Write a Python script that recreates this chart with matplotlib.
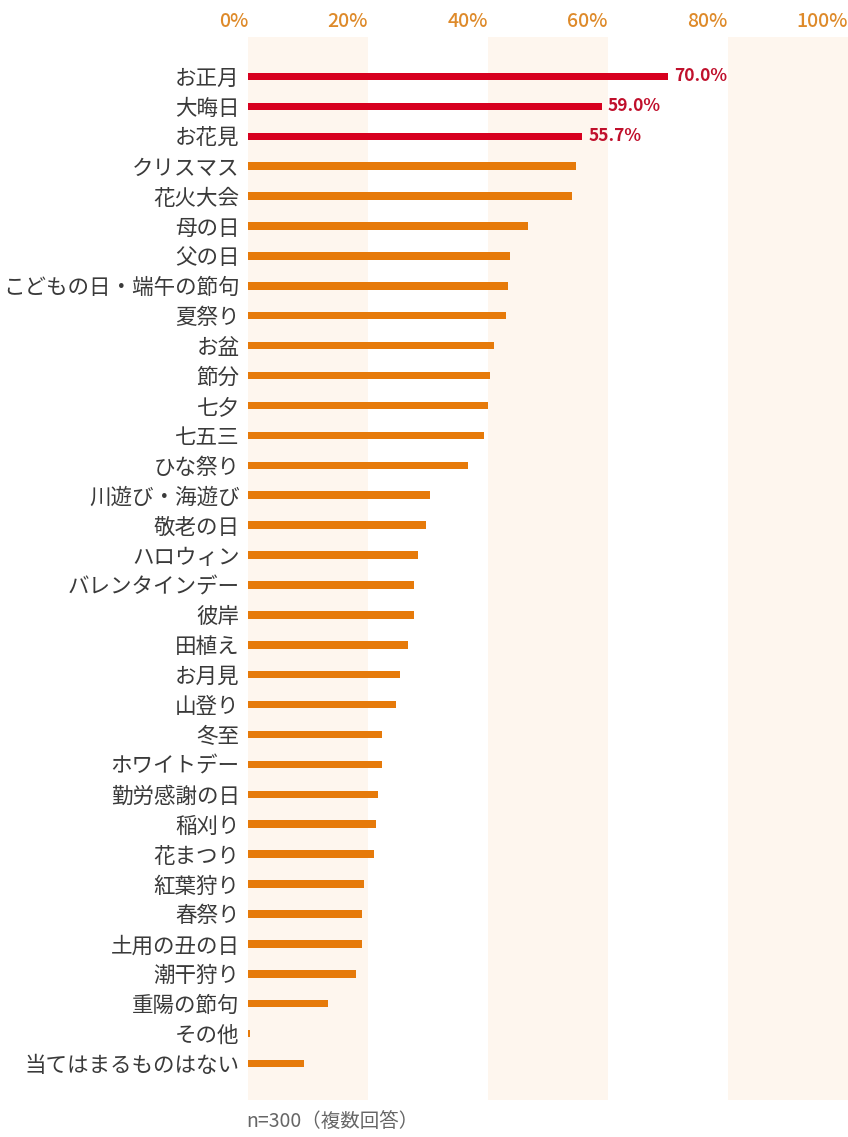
import matplotlib
matplotlib.use("Agg")
import matplotlib.pyplot as plt

plt.rcParams['font.family'] = ['Noto Sans CJK JP', 'DejaVu Sans']

categories = [
    "お正月", "大晦日", "お花見", "クリスマス", "花火大会", "母の日", "父の日",
    "こどもの日・端午の節句", "夏祭り", "お盆", "節分", "七夕", "七五三", "ひな祭り",
    "川遊び・海遊び", "敬老の日", "ハロウィン", "バレンタインデー", "彼岸", "田植え",
    "お月見", "山登り", "冬至", "ホワイトデー", "勤労感謝の日", "稲刈り", "花まつり",
    "紅葉狩り", "春祭り", "土用の丑の日", "潮干狩り", "重陽の節句", "その他",
    "当てはまるものはない",
]
values = [
    70.0, 59.0, 55.7, 54.7, 54.0, 46.7, 43.7,
    43.3, 43.0, 41.0, 40.3, 40.0, 39.3, 36.7,
    30.3, 29.7, 28.3, 27.7, 27.7, 26.7,
    25.3, 24.7, 22.3, 22.3, 21.7, 21.3, 21.0,
    19.3, 19.0, 19.0, 18.0, 13.3, 0.3,
    9.3,
]
highlight_count = 3
tick_values = [0, 20, 40, 60, 80, 100]
tick_labels = ["0%", "20%", "40%", "60%", "80%", "100%"]
bands = [(0, 20), (40, 60), (80, 100)]
footnote = "n=300（複数回答）"

RED = "#D7001F"
RED_TEXT = "#C0102C"
ORANGE = "#E67A0A"
BAND = "#FEF6EE"
TICK = "#DE8A2A"
LABEL = "#3A3A3A"

W, H = 848, 1137
fig = plt.figure(figsize=(W / 100, H / 100), dpi=100)
ax = fig.add_axes([248 / W, 1 - 1100 / H, 600 / W, 1063 / H])

for a, b in bands:
    ax.axvspan(a, b, color=BAND, zorder=0, lw=0)

n = len(categories)
ypos = list(range(n))
colors = [RED if i < highlight_count else ORANGE for i in range(n)]
ax.barh(ypos, values, height=0.25, color=colors, zorder=2)

for i in range(highlight_count):
    ax.text(values[i] + 1.0, i, f"{values[i]:.1f}%", va="center", ha="left",
            fontsize=12.5, fontweight="bold", color=RED_TEXT, zorder=3)

ax.set_xlim(0, 100)
ax.set_ylim(n - 1 + 1.22, -1.32)

ax.xaxis.tick_top()
ax.set_xticks(tick_values)
ax.set_xticklabels(tick_labels, fontsize=14, color=TICK, fontweight="medium")
for lab in ax.get_xticklabels():
    lab.set_ha("right")
ax.tick_params(axis="x", length=0, pad=4)

ax.set_yticks(ypos)
ax.set_yticklabels(categories, fontsize=15.5, color=LABEL)
ax.tick_params(axis="y", length=0, pad=6)

for s in ax.spines.values():
    s.set_visible(False)

fig.text(246 / W, 1 - 1121 / H, footnote, fontsize=14, color="#666666",
         ha="left", va="center")

fig.savefig("out.png", dpi=100, facecolor="white")
